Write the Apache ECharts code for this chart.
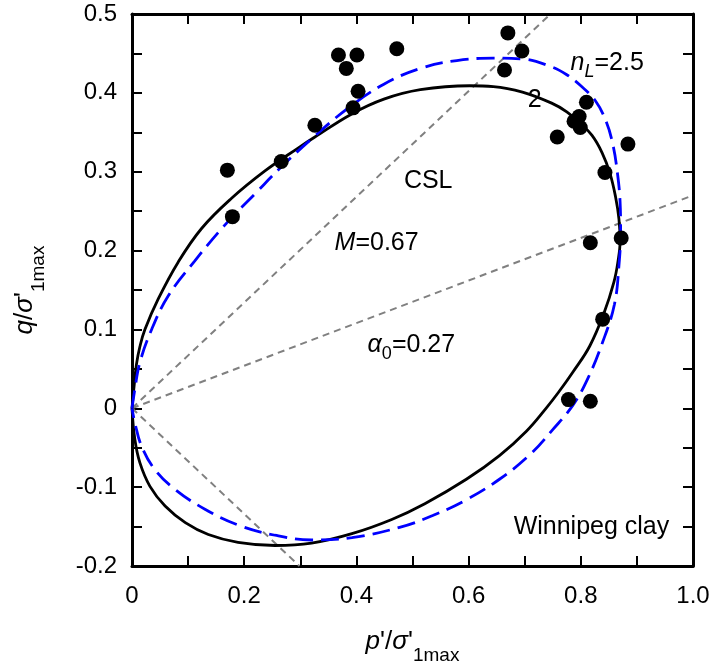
<!DOCTYPE html>
<html>
<head>
<meta charset="utf-8">
<script src="https://cdn.jsdelivr.net/npm/echarts@6/dist/echarts.min.js"></script>
<style>html,body{margin:0;padding:0;background:#fff;}#chart{width:716px;height:672px;}</style>
</head>
<body>
<div id="chart"></div>
<script>
// ---- data ----
const xTickLabels = ['0', '0.2', '0.4', '0.6', '0.8', '1.0'];
const yTickLabels = ['-0.2', '-0.1', '0', '0.1', '0.2', '0.3', '0.4', '0.5'];

const measured = [
  [0.170, 0.302], [0.179, 0.243], [0.266, 0.313], [0.326, 0.359], [0.368, 0.448],
  [0.401, 0.448], [0.382, 0.431], [0.403, 0.402], [0.394, 0.381], [0.472, 0.456],
  [0.670, 0.476], [0.695, 0.453], [0.664, 0.429], [0.810, 0.388], [0.797, 0.370],
  [0.788, 0.364], [0.799, 0.356], [0.758, 0.344], [0.884, 0.335], [0.843, 0.299],
  [0.817, 0.210], [0.872, 0.216], [0.839, 0.113], [0.778, 0.011], [0.817, 0.009]
];

const curveN2 = [
  [0.000, 0.000], [0.004, 0.030], [0.008, 0.056], [0.014, 0.078], [0.023, 0.100],
  [0.047, 0.139], [0.082, 0.185], [0.124, 0.228], [0.177, 0.266], [0.237, 0.301],
  [0.296, 0.330], [0.326, 0.344], [0.391, 0.373], [0.449, 0.392], [0.514, 0.404],
  [0.602, 0.409], [0.644, 0.408], [0.696, 0.401], [0.748, 0.387], [0.775, 0.376],
  [0.798, 0.362], [0.820, 0.346], [0.838, 0.324], [0.852, 0.298], [0.862, 0.268],
  [0.868, 0.240], [0.870, 0.212], [0.866, 0.185], [0.859, 0.160], [0.842, 0.122],
  [0.816, 0.079], [0.786, 0.046], [0.760, 0.020], [0.738, 0.000], [0.703, -0.029],
  [0.655, -0.060], [0.596, -0.090], [0.522, -0.121], [0.463, -0.141], [0.392, -0.159],
  [0.320, -0.171], [0.255, -0.174], [0.189, -0.170], [0.136, -0.160], [0.095, -0.145],
  [0.059, -0.124], [0.032, -0.099], [0.014, -0.069], [0.005, -0.039], [0.000, 0.000]
];

const curveN25 = [
  [0.000, 0.000], [0.005, 0.024], [0.014, 0.058], [0.035, 0.100], [0.065, 0.143],
  [0.112, 0.187], [0.165, 0.232], [0.222, 0.274], [0.266, 0.306], [0.319, 0.341],
  [0.384, 0.380], [0.449, 0.411], [0.514, 0.431], [0.579, 0.441], [0.644, 0.444],
  [0.696, 0.443], [0.748, 0.433], [0.775, 0.423], [0.800, 0.409], [0.826, 0.390],
  [0.845, 0.364], [0.857, 0.335], [0.865, 0.300], [0.870, 0.262], [0.871, 0.225],
  [0.868, 0.181], [0.860, 0.132], [0.839, 0.084], [0.812, 0.037], [0.786, 0.004],
  [0.750, -0.027], [0.709, -0.059], [0.655, -0.090], [0.596, -0.116], [0.536, -0.136],
  [0.477, -0.151], [0.392, -0.164], [0.320, -0.167], [0.255, -0.161], [0.189, -0.148],
  [0.130, -0.128], [0.077, -0.103], [0.041, -0.078], [0.017, -0.048], [0.005, -0.018],
  [0.000, 0.000]
];

const cslLine = [[0, 0], [0.746, 0.5]];
const lowerLine = [[0, 0], [0.2985, -0.2]];
const alphaLine = [[0, 0], [1.0, 0.27]];

const annotations = [
  [0.528, 0.288, '{r|CSL}'],
  [0.436, 0.209, '{i|M}{r|=0.67}'],
  [0.498, 0.080, '{i|α}{s|0}{r|=0.27}'],
  [0.847, 0.438, '{i|n}{si|L}{r|=2.5}'],
  [0.718, 0.391, '{r|2}'],
  [0.819, -0.151, '{r|Winnipeg clay}']
];

// ---- chart ----
const FONT = 'Liberation Sans, Arial, sans-serif';
const chart = echarts.init(document.getElementById('chart'), null, {renderer: 'canvas'});

function axisCommon(extra) {
  return Object.assign({
    type: 'value',
    axisLine: {show: true, onZero: false, lineStyle: {color: '#000', width: 3}},
    axisTick: {show: true, inside: true, length: 10, lineStyle: {color: '#000', width: 2}},
    minorTick: {show: true, splitNumber: 2, length: 10, lineStyle: {color: '#000', width: 2}},
    splitLine: {show: false},
    minorSplitLine: {show: false}
  }, extra);
}

const annRich = {
  r: {fontSize: 25, fontFamily: FONT, color: '#000', lineHeight: 36},
  i: {fontSize: 25, fontFamily: FONT, fontStyle: 'italic', color: '#000', lineHeight: 36},
  s: {fontSize: 18, fontFamily: FONT, color: '#000', lineHeight: 18, verticalAlign: 'bottom'},
  si: {fontSize: 18, fontFamily: FONT, fontStyle: 'italic', color: '#000', lineHeight: 18, verticalAlign: 'bottom'}
};

const titleRich = {
  r: {fontSize: 26, fontFamily: FONT, color: '#000', lineHeight: 46},
  i: {fontSize: 26, fontFamily: FONT, fontStyle: 'italic', color: '#000', lineHeight: 46},
  s: {fontSize: 19, fontFamily: FONT, color: '#000', lineHeight: 19, verticalAlign: 'bottom'}
};

const option = {
  animation: false,
  backgroundColor: '#fff',
  textStyle: {fontFamily: FONT},
  grid: {left: 132, right: 23, top: 14, bottom: 106, containLabel: false},
  xAxis: [
    axisCommon({
      min: 0, max: 1, interval: 0.2, position: 'bottom',
      axisLabel: {show: true, fontSize: 24, color: '#000', fontFamily: FONT, margin: 18,
        formatter: v => xTickLabels[Math.round(v / 0.2)]},
      name: '{i|p}{r|\'/}{i|σ}{r|\'}{s|1max}',
      nameLocation: 'middle', nameGap: 53,
      nameTextStyle: {rich: titleRich}
    }),
    axisCommon({
      min: 0, max: 1, interval: 0.2, position: 'top',
      axisLabel: {show: false}
    })
  ],
  yAxis: [
    axisCommon({
      min: -0.2, max: 0.5, interval: 0.1, position: 'left',
      axisLabel: {show: true, fontSize: 24, color: '#000', fontFamily: FONT, margin: 15,
        formatter: v => yTickLabels[Math.round((v + 0.2) / 0.1)]},
      name: '{i|q}{r|/}{i|σ}{r|\'}{s|1max}',
      nameLocation: 'middle', nameRotate: 90, nameGap: 84,
      nameTextStyle: {rich: titleRich}
    }),
    axisCommon({
      min: -0.2, max: 0.5, interval: 0.1, position: 'right',
      axisLabel: {show: false}
    })
  ],
  series: [
    {type: 'line', data: cslLine, symbol: 'none', silent: true, z: 1,
      lineStyle: {color: '#808080', width: 2, type: [7, 5]}},
    {type: 'line', data: lowerLine, symbol: 'none', silent: true, z: 1,
      lineStyle: {color: '#808080', width: 2, type: [7, 5]}},
    {type: 'line', data: alphaLine, symbol: 'none', silent: true, z: 1,
      lineStyle: {color: '#808080', width: 2, type: [7, 5]}},
    {type: 'line', data: curveN2, symbol: 'none', smooth: 0.4, silent: true, z: 2,
      lineStyle: {color: '#000', width: 2.8}},
    {type: 'line', data: curveN25, symbol: 'none', smooth: 0.4, silent: true, z: 2,
      lineStyle: {color: '#0000ff', width: 2.8, type: [18, 8]}},
    {type: 'scatter', data: measured, symbol: 'circle', symbolSize: 15, silent: true, z: 3,
      itemStyle: {color: '#000', opacity: 1}},
    {type: 'scatter', data: annotations, symbolSize: 0, silent: true, z: 4,
      itemStyle: {opacity: 1},
      label: {show: true, position: 'inside', opacity: 1, formatter: p => p.data[2], rich: annRich}}
  ]
};
chart.setOption(option);
</script>
</body>
</html>
